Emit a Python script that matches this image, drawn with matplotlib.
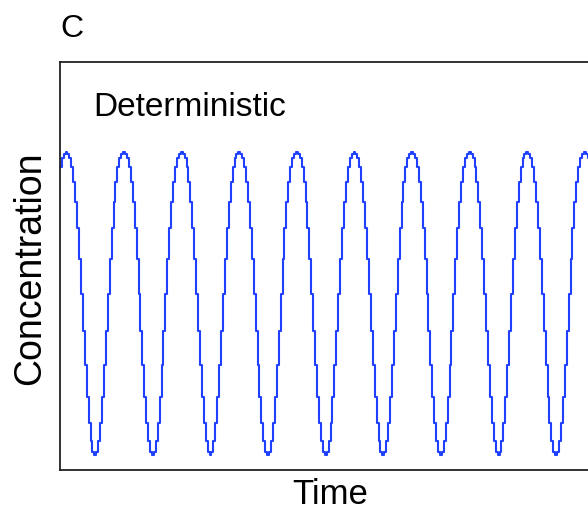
import numpy as np
import matplotlib
matplotlib.use("Agg")
import matplotlib.pyplot as plt

plt.rcParams['font.family'] = ['Liberation Sans', 'DejaVu Sans']

# one oscillation period of the deterministic trace (30 samples, arbitrary units)
cycle = [0.95, 0.98, 0.995, 1.00, 0.995, 0.98, 0.95, 0.90, 0.835, 0.75,
         0.645, 0.53, 0.41, 0.295, 0.19, 0.105, 0.045, 0.01, 0.0, 0.01,
         0.045, 0.105, 0.19, 0.295, 0.41, 0.53, 0.645, 0.75, 0.835, 0.90]
n_cycles = 10

panel_label = "C"
trace_label = "Deterministic"
x_label = "Time"
y_label = "Concentration"

conc = np.tile(cycle, n_cycles)
time = np.arange(len(conc))

fig = plt.figure(figsize=(5.88, 5.13), dpi=100)
# axes run past the right edge of the figure
ax = fig.add_axes([0.102, 0.084, 0.932, 0.795])

ax.plot(time, conc, drawstyle='steps-mid', color='#2040ff', lw=1.5)

ax.set_xlim(-0.4, 285)
ax.set_ylim(-0.05, 1.297)
ax.set_xticks([])
ax.set_yticks([])
for side in ['left', 'top', 'bottom']:
    ax.spines[side].set_linewidth(1.3)
    ax.spines[side].set_color('#222222')
ax.spines['right'].set_visible(False)

ax.text(0.060, 0.888, trace_label, transform=ax.transAxes, fontsize=24,
        va='center', ha='left')

fig.text(0.561, 0.0175, x_label, fontsize=25, ha='center', va='baseline')
fig.text(0.051, 0.478, y_label, fontsize=27, rotation=90,
         ha='center', va='center')
fig.text(0.102, 0.928, panel_label, fontsize=23, ha='left', va='baseline')

fig.savefig("out.png", dpi=100)
